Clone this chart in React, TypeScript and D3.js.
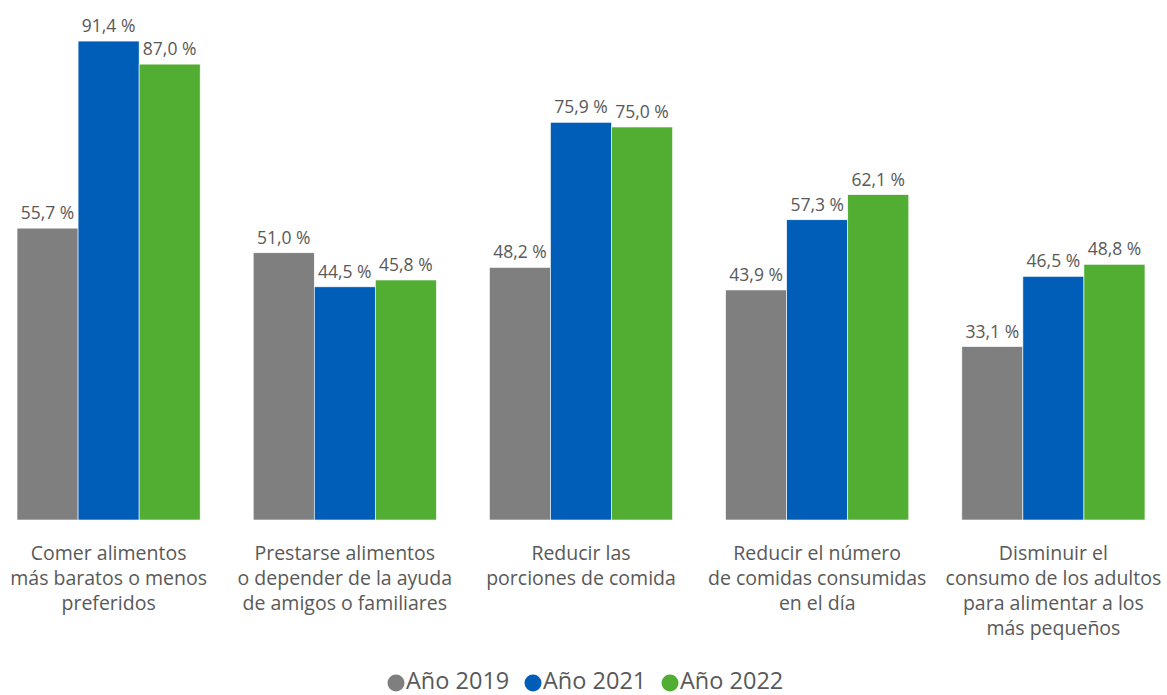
import React, { useEffect, useRef } from 'react';
import * as d3 from 'd3';

const categories = [
  ['Comer alimentos', 'más baratos o menos', 'preferidos'],
  ['Prestarse alimentos', 'o depender de la ayuda', 'de amigos o familiares'],
  ['Reducir las', 'porciones de comida'],
  ['Reducir el número', 'de comidas consumidas', 'en el día'],
  ['Disminuir el', 'consumo de los adultos', 'para alimentar a los', 'más pequeños'],
];

const seriesNames = ['Año 2019', 'Año 2021', 'Año 2022'];
const values2019 = [55.7, 51.0, 48.2, 43.9, 33.1];
const values2021 = [91.4, 44.5, 75.9, 57.3, 46.5];
const values2022 = [87.0, 45.8, 75.0, 62.1, 48.8];
const colors = ['#7f7f7f', '#005eb8', '#52ae32'];

const width = 1167;
const height = 695;
const baseline = 520;
const font = "'Open Sans', 'Noto Sans', sans-serif";
const textColor = '#595959';

const App: React.FC = () => {
  const svgRef = useRef<SVGSVGElement>(null);

  useEffect(() => {
    document.body.style.margin = '0';
    if (!svgRef.current) return;
    const svg = d3.select(svgRef.current);
    svg.selectAll('*').remove();

    const series = [values2019, values2021, values2022];
    const idx = d3.range(categories.length);

    const x0 = d3.scaleBand<number>()
      .domain(idx)
      .range([-9.5, 1171.5])
      .paddingInner(0.2246)
      .paddingOuter(0.1123);

    const x1 = d3.scaleBand<number>()
      .domain(d3.range(seriesNames.length))
      .range([0, x0.bandwidth()]);

    const y = d3.scaleLinear().domain([0, 100]).range([baseline, baseline - 524]);

    const groups = svg.selectAll('g.group')
      .data(idx)
      .enter().append('g')
      .attr('class', 'group')
      .attr('transform', (i) => `translate(${x0(i)},0)`);

    groups.each(function (i) {
      const g = d3.select(this);
      series.forEach((vals, s) => {
        const v = vals[i];
        g.append('rect')
          .attr('x', x1(s)!)
          .attr('y', y(v))
          .attr('width', x1.bandwidth())
          .attr('height', baseline - y(v))
          .attr('fill', colors[s])
          .attr('stroke', '#ffffff')
          .attr('stroke-width', 0.6);
        g.append('text')
          .attr('x', x1(s)! + x1.bandwidth() / 2)
          .attr('y', y(v) - 9)
          .attr('text-anchor', 'middle')
          .style('font-family', font)
          .style('font-size', '17.5px')
          .style('fill', textColor)
          .text(v.toFixed(1).replace('.', ',') + ' %');
      });

      const label = g.append('text')
        .attr('text-anchor', 'middle')
        .style('font-family', font)
        .style('font-size', '19.5px')
        .style('fill', textColor);
      categories[i].forEach((line, k) => {
        label.append('tspan')
          .attr('x', x0.bandwidth() / 2)
          .attr('y', 560 + k * 25)
          .text(line);
      });
    });

    // Legend
    const legendX = [396, 533, 670];
    const legend = svg.append('g');
    seriesNames.forEach((name, s) => {
      legend.append('circle')
        .attr('cx', legendX[s])
        .attr('cy', 683)
        .attr('r', 8.5)
        .attr('fill', colors[s]);
      legend.append('text')
        .attr('x', legendX[s] + 10)
        .attr('y', 689)
        .style('font-family', font)
        .style('font-size', '23.5px')
        .style('fill', textColor)
        .text(name);
    });
  }, []);

  return <svg ref={svgRef} width={width} height={height} style={{ display: 'block', background: '#ffffff' }} />;
};

export default App;
